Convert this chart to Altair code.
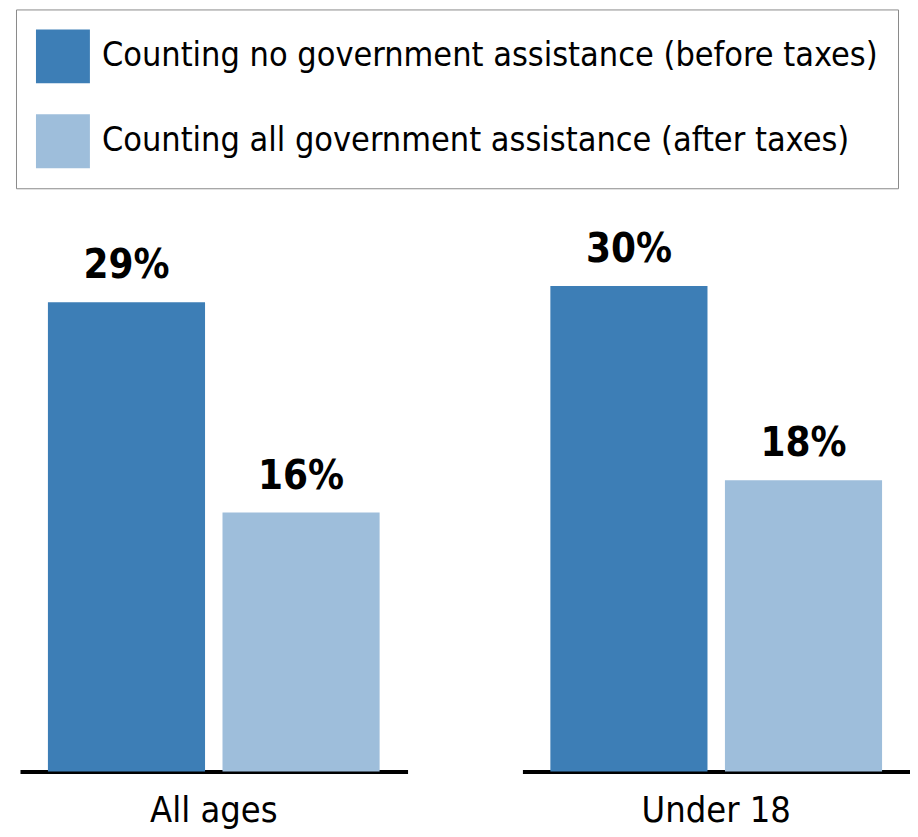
import altair as alt
import pandas as pd

groups = ["All ages", "Under 18"]
series = [
    "Counting no government assistance (before taxes)",
    "Counting all government assistance (after taxes)",
]
before_taxes = [29, 30]
after_taxes = [16, 18]
colors = ["#3d7eb6", "#9ebedb"]

rows = []
for i, g in enumerate(groups):
    rows.append({"group": g, "series": series[0], "value": before_taxes[i], "label": f"{before_taxes[i]}%"})
    rows.append({"group": g, "series": series[1], "value": after_taxes[i], "label": f"{after_taxes[i]}%"})
df = pd.DataFrame(rows)

FONT = "DejaVu Sans Condensed, Liberation Sans Narrow, sans-serif"

base = alt.Chart(df).encode(
    x=alt.X(
        "series:N",
        sort=series,
        scale=alt.Scale(paddingInner=0.1, paddingOuter=0.16),
        axis=alt.Axis(
            title=None, labels=False, ticks=False, domain=True,
            domainColor="#000000", domainWidth=4, grid=False,
        ),
    ),
    y=alt.Y("value:Q", scale=alt.Scale(domain=[0, 34]), axis=None),
)

bars = base.mark_bar().encode(
    color=alt.Color(
        "series:N",
        sort=series,
        scale=alt.Scale(domain=series, range=colors),
        legend=alt.Legend(
            title=None,
            orient="none",
            legendX=-4,
            legendY=-212,
            direction="vertical",
            symbolType="square",
            symbolSize=2916,
            symbolStrokeWidth=0,
            symbolOpacity=1,
            labelFont=FONT,
            labelFontSize=34,
            labelColor="#000000",
            labelLimit=2000,
            labelOffset=12,
            rowPadding=31,
            padding=20,
            strokeColor="#8a8a8a",
            fillColor="#ffffff",
        ),
    )
)

text = base.mark_text(
    baseline="alphabetic", dy=-24, font=FONT, fontSize=40, fontWeight="bold", color="#000000"
).encode(text="label:N")

chart = (
    alt.layer(bars, text)
    .properties(width=388, height=551)
    .facet(
        column=alt.Column(
            "group:N",
            sort=groups,
            header=alt.Header(
                title=None,
                labelOrient="bottom",
                labelFont=FONT,
                labelFontSize=36,
                labelColor="#000000",
                labelPadding=22,
            ),
        ),
        spacing=115,
    )
    .properties(padding={"left": 7, "top": 0, "right": 0, "bottom": 0}, background="#ffffff")
    .configure_view(strokeWidth=0, stroke="transparent")
)

chart.save("out.html", embed_options={"renderer": "svg", "actions": False})
